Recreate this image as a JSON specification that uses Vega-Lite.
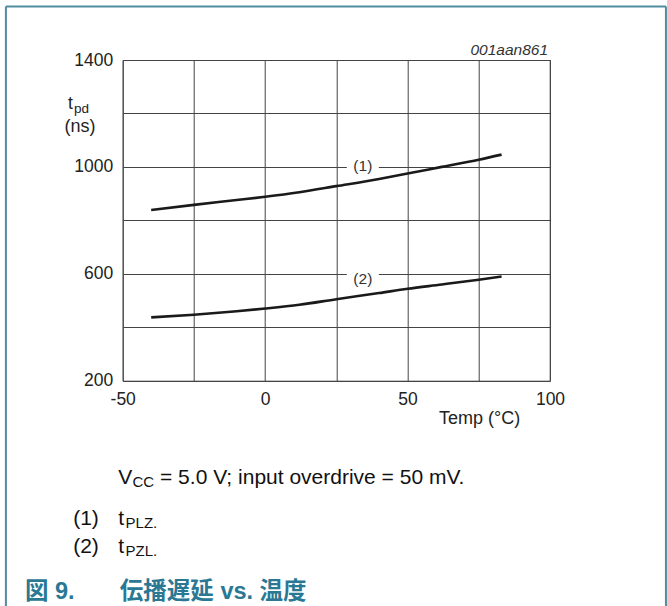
{
  "$schema": "https://vega.github.io/schema/vega-lite/v6.json",
  "width": 427.3,
  "height": 320.7,
  "autosize": "none",
  "padding": {"left": 122.7, "top": 60, "right": 117, "bottom": 225.3},
  "background": "white",
  "config": {
    "view": {"stroke": "#444", "strokeWidth": 1},
    "axis": {
      "grid": true, "gridColor": "#444", "gridWidth": 1, "gridOpacity": 1,
      "domain": false, "ticks": false, "labelFlush": false,
      "labelFont": "Liberation Sans", "labelFontSize": 17.5, "labelColor": "#222",
      "title": null
    },
    "text": {"font": "Liberation Sans", "color": "#222"}
  },
  "datasets": {
    "curves": [
      {"series": "1", "x": -40, "y": 839}, {"series": "1", "x": -25, "y": 858}, {"series": "1", "x": -10, "y": 876},
      {"series": "1", "x": 0, "y": 888}, {"series": "1", "x": 12, "y": 905}, {"series": "1", "x": 25, "y": 928},
      {"series": "1", "x": 40, "y": 955}, {"series": "1", "x": 50, "y": 975}, {"series": "1", "x": 62, "y": 1000},
      {"series": "1", "x": 75, "y": 1027}, {"series": "1", "x": 83, "y": 1046},
      {"series": "2", "x": -40, "y": 437}, {"series": "2", "x": -25, "y": 447}, {"series": "2", "x": -10, "y": 460},
      {"series": "2", "x": 0, "y": 470}, {"series": "2", "x": 12, "y": 484}, {"series": "2", "x": 25, "y": 505},
      {"series": "2", "x": 40, "y": 528}, {"series": "2", "x": 50, "y": 544}, {"series": "2", "x": 62, "y": 560},
      {"series": "2", "x": 75, "y": 578}, {"series": "2", "x": 83, "y": 590}
    ],
    "labels": [
      {"label": "(1)", "x": 34.3, "y": 1000, "ty": 1002},
      {"label": "(2)", "x": 34.3, "y": 600, "ty": 580}
    ],
    "frame": [
      {"x": -91, "y": 1600, "x2": 140.7, "y2": 1600},
      {"x": -91, "y": 1600, "x2": -91, "y2": -800},
      {"x": 140.7, "y": 1600, "x2": 140.7, "y2": -800}
    ],
    "notes": [
      {"kind": "code", "text": "001aan861", "x": 99.3, "y": 1418.7},
      {"kind": "main_left", "text": "t", "x": -69.2, "y": 1216},
      {"kind": "sub_left", "text": "pd", "x": -67.1, "y": 1202},
      {"kind": "main_center", "text": "(ns)", "x": -65.0, "y": 1129},
      {"kind": "main_center", "text": "Temp (°C)", "x": 75.3, "y": 38},
      {"kind": "foot", "text": "V", "x": -51.6, "y": -186},
      {"kind": "footsub", "text": "CC", "x": -46.6, "y": -198},
      {"kind": "foot", "text": "= 5.0 V; input overdrive = 50 mV.", "x": -36.9, "y": -186},
      {"kind": "foot", "text": "(1)", "x": -67.4, "y": -341},
      {"kind": "foot", "text": "t", "x": -51.6, "y": -341},
      {"kind": "footsub", "text": "PLZ.", "x": -49.0, "y": -351},
      {"kind": "foot", "text": "(2)", "x": -67.4, "y": -446},
      {"kind": "foot", "text": "t", "x": -51.6, "y": -446},
      {"kind": "footsub", "text": "PZL.", "x": -49.0, "y": -456},
      {"kind": "caption", "text": "図 9.", "x": -84.3, "y": -616},
      {"kind": "caption", "text": "伝播遅延 vs. 温度", "x": -51.0, "y": -616}
    ]
  },
  "encoding": {
    "x": {
      "field": "x", "type": "quantitative",
      "scale": {"domain": [-50, 100], "nice": false, "zero": false},
      "axis": {
        "values": [-50, -25, 0, 25, 50, 75, 100],
        "labelExpr": "datum.value % 50 == 0 ? '' + datum.value : ''",
        "labelPadding": 10
      }
    },
    "y": {
      "field": "y", "type": "quantitative",
      "scale": {"domain": [200, 1400], "nice": false, "zero": false},
      "axis": {
        "values": [200, 400, 600, 800, 1000, 1200, 1400],
        "labelExpr": "(datum.value - 200) % 400 == 0 ? '' + datum.value : ''",
        "labelPadding": 10
      }
    }
  },
  "layer": [
    {
      "data": {"name": "frame"},
      "mark": {"type": "rule", "stroke": "#4f8c9d", "strokeWidth": 2},
      "encoding": {"x2": {"field": "x2"}, "y2": {"field": "y2"}}
    },
    {
      "data": {"name": "curves"},
      "mark": {"type": "line", "interpolate": "monotone", "stroke": "#1a1a1a", "strokeWidth": 2.6},
      "encoding": {"detail": {"field": "series"}}
    },
    {
      "data": {"name": "labels"},
      "mark": {"type": "point", "shape": "M-1,-0.56H1V0.56H-1Z", "filled": true, "fill": "white", "stroke": null, "opacity": 1, "size": 1024},
      "encoding": {}
    },
    {
      "data": {"name": "labels"},
      "mark": {"type": "text", "fontSize": 15.5, "color": "#333", "align": "center", "baseline": "middle"},
      "encoding": {"y": {"field": "ty", "type": "quantitative"}, "text": {"field": "label"}}
    },
    {
      "data": {"name": "notes"},
      "transform": [{"filter": "datum.kind == 'code'"}],
      "mark": {"type": "text", "fontSize": 15.5, "fontStyle": "italic", "align": "right", "baseline": "alphabetic", "color": "#333"},
      "encoding": {"text": {"field": "text"}}
    },
    {
      "data": {"name": "notes"},
      "transform": [{"filter": "datum.kind == 'main_left'"}],
      "mark": {"type": "text", "fontSize": 17.5, "align": "left", "baseline": "alphabetic"},
      "encoding": {"text": {"field": "text"}}
    },
    {
      "data": {"name": "notes"},
      "transform": [{"filter": "datum.kind == 'sub_left'"}],
      "mark": {"type": "text", "fontSize": 13.5, "align": "left", "baseline": "alphabetic"},
      "encoding": {"text": {"field": "text"}}
    },
    {
      "data": {"name": "notes"},
      "transform": [{"filter": "datum.kind == 'main_center'"}],
      "mark": {"type": "text", "fontSize": 18, "align": "center", "baseline": "alphabetic"},
      "encoding": {"text": {"field": "text"}}
    },
    {
      "data": {"name": "notes"},
      "transform": [{"filter": "datum.kind == 'foot'"}],
      "mark": {"type": "text", "fontSize": 21, "align": "left", "baseline": "alphabetic", "color": "#111"},
      "encoding": {"text": {"field": "text"}}
    },
    {
      "data": {"name": "notes"},
      "transform": [{"filter": "datum.kind == 'footsub'"}],
      "mark": {"type": "text", "fontSize": 15, "align": "left", "baseline": "alphabetic", "color": "#111"},
      "encoding": {"text": {"field": "text"}}
    },
    {
      "data": {"name": "notes"},
      "transform": [{"filter": "datum.kind == 'caption'"}],
      "mark": {"type": "text", "font": "Liberation Sans, Noto Sans CJK JP", "fontSize": 23.5, "fontWeight": "bold", "align": "left", "baseline": "alphabetic", "color": "#2a7893"},
      "encoding": {"text": {"field": "text"}}
    }
  ]
}
